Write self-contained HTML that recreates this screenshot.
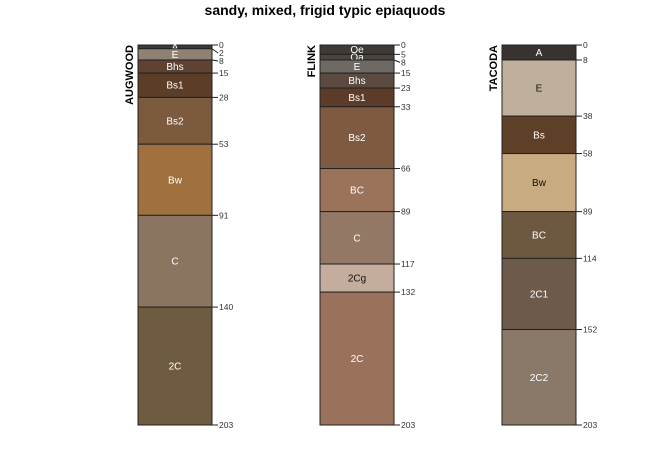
<!DOCTYPE html>
<html><head><meta charset="utf-8"><style>
html,body{margin:0;padding:0;background:#fff;}
svg{display:block;font-family:"Liberation Sans",sans-serif;}
</style></head><body>
<svg id="chart" width="650" height="450" xmlns="http://www.w3.org/2000/svg">
<text x="325" y="15" text-anchor="middle" font-size="14" font-weight="bold" fill="#000">sandy, mixed, frigid typic epiaquods</text>
</svg>
<script>
const profileNames = ["AUGWOOD", "FLINK", "TACODA"];
const augwoodNames = ["A","E","Bhs","Bs1","Bs2","Bw","C","2C"];
const augwoodTops = [0,2,8,15,28,53,91,140];
const augwoodBottoms = [2,8,15,28,53,91,140,203];
const augwoodColors = ["#3d3a35","#8f8272","#5e4232","#5c3d27","#7b5a3e","#a0703f","#8c7560","#6f5c40"];
const flinkNames = ["Oe","Oa","E","Bhs","Bs1","Bs2","BC","C","2Cg","2C"];
const flinkTops = [0,5,8,15,23,33,66,89,117,132];
const flinkBottoms = [5,8,15,23,33,66,89,117,132,203];
const flinkColors = ["#3f3a35","#4a443e","#6e6a63","#5a4a40","#5c3c28","#7e5a40","#9b735a","#937866","#c4ad9c","#9a715a"];
const tacodaNames = ["A","E","Bs","Bw","BC","2C1","2C2"];
const tacodaTops = [0,8,38,58,89,114,152];
const tacodaBottoms = [8,38,58,89,114,152,203];
const tacodaColors = ["#38332e","#bfb09c","#5e3f28","#c8ab80","#6d5840","#6d5a4a","#8a7868"];

const svg = document.getElementById('chart');
const NS = "http://www.w3.org/2000/svg";
const yTop = 45, yBot = 425, maxDepth = 203;
const yScale = d => yTop + d / maxDepth * (yBot - yTop);
const colX = [138, 320, 502], colW = 74;
function mk(tag, attrs){const e=document.createElementNS(NS,tag);for(const k in attrs)e.setAttribute(k,attrs[k]);svg.appendChild(e);return e;}
function lum(hex){const n=parseInt(hex.slice(1),16);return 0.299*(n>>16)+0.587*((n>>8)&255)+0.114*(n&255);}
const profiles = [
 [augwoodNames,augwoodTops,augwoodBottoms,augwoodColors],
 [flinkNames,flinkTops,flinkBottoms,flinkColors],
 [tacodaNames,tacodaTops,tacodaBottoms,tacodaColors]];
profiles.forEach((p,pi)=>{
  const [names,tops,bots,cols]=p, x=colX[pi];
  names.forEach((n,i)=>{
    const y0=yScale(tops[i]), y1=yScale(bots[i]);
    const r=mk('rect',{x:x,y:y0,width:colW,height:y1-y0,fill:cols[i],stroke:'#222','stroke-width':1});
    
    
    const t=mk('text',{x:x+colW/2,y:(y0+y1)/2+3.5,'text-anchor':'middle','font-size':10,fill:lum(cols[i])>150?'#111':'#fff'});
    t.textContent=n;
    
    
  });
  const depths=[tops[0]].concat(bots);
  const ys=depths.map(yScale), ly=ys.slice();
  for(let k=1;k<ly.length;k++) if(ly[k]-ly[k-1]<8) ly[k]=ly[k-1]+8;
  depths.forEach((d,k)=>{
    const l=mk('line',{x1:x+colW,y1:ys[k],x2:x+colW+6,y2:ly[k],stroke:'#222','stroke-width':1});
    
    
    const t=mk('text',{x:x+colW+7,y:ly[k]+3,'font-size':8.5,fill:'#333'});
    t.textContent=d;
    
    
  });
  const nm=mk('text',{x:0,y:0,'font-size':11,'font-weight':'bold','text-anchor':'end',transform:`translate(${x-5},${yTop}) rotate(-90)`,fill:'#000'});
  nm.textContent=profileNames[pi];
  
  
});
</script>
</body></html>
